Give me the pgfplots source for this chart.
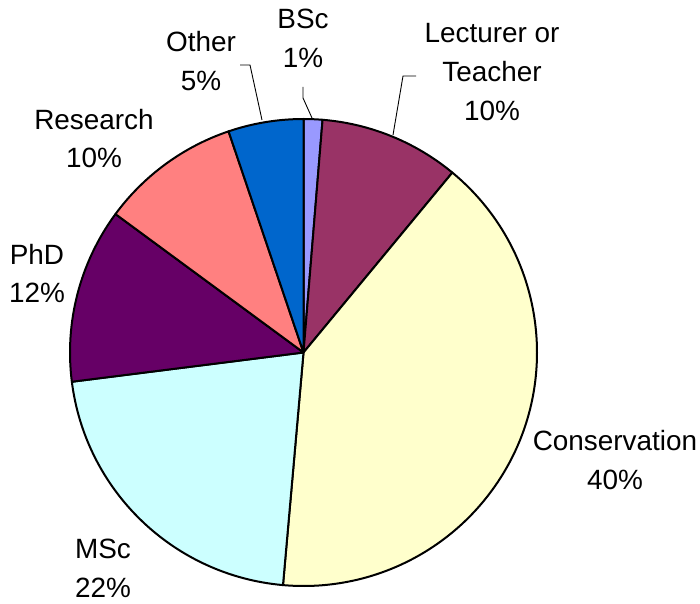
\documentclass[border=0pt]{standalone}
\usepackage{pgfplots}
\pgfplotsset{compat=1.18}
\usepackage{fontspec}
\setmainfont{Liberation Sans}
\definecolor{cBSc}{HTML}{9999FF}
\definecolor{cLect}{HTML}{993366}
\definecolor{cCons}{HTML}{FFFFCC}
\definecolor{cMSc}{HTML}{CCFFFF}
\definecolor{cPhD}{HTML}{660066}
\definecolor{cRes}{HTML}{FF8080}
\definecolor{cOther}{HTML}{0066CC}
\begin{document}
\begin{tikzpicture}
\begin{axis}[hide axis, scale only axis, width=700bp, height=603bp,
  xmin=0, xmax=700, ymin=0, ymax=603, clip=false]
\addplot[draw=none] coordinates {(0,0) (700,603)};
\pgfplotsextra{
  \path (axis cs:0,0) rectangle (axis cs:700,603);
  \xdef\cum{0}
  \foreach \v/\c in {1.3/cBSc, 9.7/cLect, 40.4/cCons, 21.6/cMSc, 12.1/cPhD, 9.7/cRes, 5.2/cOther} {
    \pgfmathsetmacro\a{90-3.6*\cum}
    \pgfmathsetmacro\b{90-3.6*(\cum+\v)}
    \filldraw[fill=\c, draw=black, line width=2bp, line join=round]
      (axis cs:303.5,250.5) -- ++(\a:233.5bp) arc[start angle=\a, end angle=\b, radius=233.5bp] -- cycle;
    \pgfmathsetmacro\n{\cum+\v}
    \xdef\cum{\n}
  }
  \draw[line width=0.9bp] (axis cs:240,538) -- (axis cs:250,538) -- (axis cs:262,483);
  \draw[line width=0.9bp] (axis cs:303,516) -- (axis cs:303,505) -- (axis cs:312,485);
  \draw[line width=0.9bp] (axis cs:416,527) -- (axis cs:403,527) -- (axis cs:393,468);
  \tikzset{lab/.style={anchor=base, inner sep=0pt, font=\fontsize{28}{33}\selectfont}}
  \node[lab] at (axis cs:303,574) {BSc};
  \node[lab] at (axis cs:303,535) {1\%};
  \node[lab] at (axis cs:201,551) {Other};
  \node[lab] at (axis cs:201,512) {5\%};
  \node[lab] at (axis cs:492,560) {Lecturer or};
  \node[lab] at (axis cs:492,521) {Teacher};
  \node[lab] at (axis cs:492,482) {10\%};
  \node[lab] at (axis cs:94,473) {Research};
  \node[lab] at (axis cs:94,435) {10\%};
  \node[lab] at (axis cs:37,338) {PhD};
  \node[lab] at (axis cs:37,300) {12\%};
  \node[lab] at (axis cs:615,153) {Conservation};
  \node[lab] at (axis cs:615,114) {40\%};
  \node[lab] at (axis cs:103,45) {MSc};
  \node[lab] at (axis cs:103,6) {22\%};
}
\end{axis}
\end{tikzpicture}
\end{document}
